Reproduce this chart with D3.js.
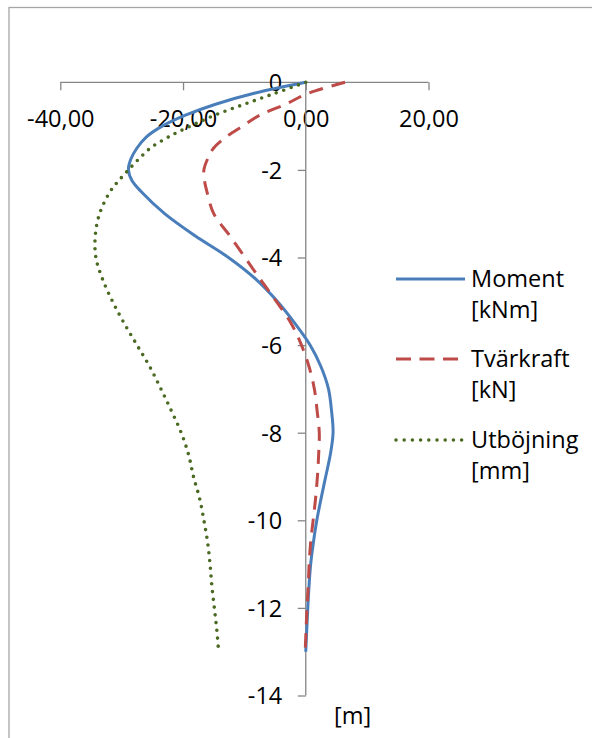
<!DOCTYPE html>
<html>
<head>
<meta charset="utf-8">
<script src="https://cdn.jsdelivr.net/npm/d3@7"></script>
<style>
  html, body { margin: 0; padding: 0; background: #fff; }
  svg { display: block; }
  text { font-family: "Open Sans", "Liberation Sans", sans-serif; fill: #000; }
</style>
</head>
<body>
<svg id="chart" width="592" height="738"></svg>
<script>
// Depth below ground level [m]
const depths = [0, -0.25, -0.5, -0.75, -1, -1.25, -1.5, -1.75, -2, -2.25, -2.5, -3, -3.5, -4, -4.5, -5, -5.5, -6, -6.5, -7, -7.5, -8, -8.5, -9, -9.5, -10, -10.5, -11, -11.5, -12, -12.5, -13];

// Bending moment [kNm]
const moment = [0, -8.4, -14.7, -19.6, -23.4, -26.0, -27.5, -28.5, -28.9, -28.3, -26.8, -23.0, -18.1, -12.6, -8.1, -4.65, -1.8, 0.7, 2.5, 3.7, 4.2, 4.45, 4.0, 3.25, 2.5, 1.8, 1.25, 0.8, 0.53, 0.33, 0.16, 0.0];

// Shear force [kN]
const shear = [6.4, 0.4, -3.3, -7.5, -10.3, -13.0, -15.0, -16.0, -16.6, -16.5, -16.1, -15.0, -12.4, -9.9, -7.4, -4.8, -2.4, -0.7, 0.55, 1.4, 1.85, 2.2, 2.1, 1.9, 1.6, 1.2, 0.8, 0.55, 0.4, 0.2, 0.05, -0.1];

// Deflection [mm]
const deflection = [0, -5.0, -10.0, -14.8, -18.8, -22.4, -25.3, -27.2, -28.9, -30.5, -31.9, -33.6, -34.3, -34.2, -33.1, -31.5, -29.6, -27.5, -25.4, -23.6, -21.9, -20.3, -19.1, -18.3, -17.3, -16.6, -16.0, -15.6, -15.3, -14.9, -14.5, -14.2];

const xTicks = [-40, -20, 0, 20];
const yTicks = [0, -2, -4, -6, -8, -10, -12, -14];

const seriesNames = ["Moment", "Tvärkraft", "Utböjning"];
const seriesUnits = ["[kNm]", "[kN]", "[mm]"];
const seriesValues = [moment, shear, deflection];
const seriesColors = ["#4A7EBB", "#BE4B48", "#4A6A22"];
const seriesDash = [null, "14 9", "0 7.8"];
const depthUnit = "[m]";

const svg = d3.select("#chart");

// chart frame
svg.append("rect")
  .attr("x", 9).attr("y", 7.5)
  .attr("width", 700).attr("height", 800)
  .attr("fill", "#fff")
  .attr("stroke", "#A6A6A6").attr("stroke-width", 1.3);

const x = d3.scaleLinear().domain([-40, 20]).range([60.3, 428.5]);
const y = d3.scaleLinear().domain([0, -14]).range([82.3, 695.5]);

const fontSize = 23.5;
const axisColor = "#868686";

// value axis along the top (ticks point down)
const xAxis = svg.append("g")
  .attr("transform", `translate(0,${y(0)})`)
  .call(d3.axisBottom(x).tickValues(xTicks).tickSize(8).tickPadding(20)
    .tickFormat(d => d3.format(".2f")(d).replace(".", ",").replace("−", "-")));

// depth axis through zero
const yAxis = svg.append("g")
  .attr("transform", `translate(${x(0)},0)`)
  .call(d3.axisLeft(y).tickValues(yTicks).tickSize(8).tickPadding(15.5)
    .tickFormat(d => String(d)));

[xAxis, yAxis].forEach(g => {
  g.select(".domain").attr("stroke", axisColor).attr("stroke-width", 1.3);
  g.selectAll(".tick line").attr("stroke", axisColor).attr("stroke-width", 1.3);
  g.selectAll(".tick text")
    .attr("fill", "#000")
    .style("font-family", '"Open Sans", "Liberation Sans", sans-serif')
    .style("font-size", fontSize + "px");
});
xAxis.select(".domain").attr("d", `M${x(-40)},0H${x(20)}`);
yAxis.select(".domain").attr("d", `M0,${y(0)}V${y(-14)}`);
yAxis.selectAll(".tick text").attr("dy", "0.36em");

// curves
const line = d3.line()
  .x(d => x(d[0]))
  .y(d => y(d[1]))
  .curve(d3.curveCatmullRom.alpha(0.5));

seriesValues.forEach((vals, i) => {
  const pts = vals.map((v, j) => [v, depths[j]]);
  const p = svg.append("path")
    .datum(pts)
    .attr("d", line)
    .attr("fill", "none")
    .attr("stroke", seriesColors[i])
    .attr("stroke-width", i === 2 ? 3.6 : 3)
    .attr("stroke-linejoin", "round");
  if (seriesDash[i]) p.attr("stroke-dasharray", seriesDash[i]);
  if (i === 2) p.attr("stroke-linecap", "round");
});

// depth unit label
svg.append("text")
  .attr("x", 334).attr("y", 724)
  .style("font-size", fontSize + "px")
  .text(depthUnit);

// legend
const legend = svg.append("g");
const legendY = [279, 359, 440];
seriesNames.forEach((name, i) => {
  const ly = legendY[i];
  const l = legend.append("line")
    .attr("x1", 396).attr("x2", 465)
    .attr("y1", ly).attr("y2", ly)
    .attr("stroke", seriesColors[i])
    .attr("stroke-width", i === 2 ? 3.6 : 3);
  if (seriesDash[i]) l.attr("stroke-dasharray", i === 2 ? "0 8.2" : "15 8.5");
  if (i === 2) l.attr("stroke-linecap", "round");
  legend.append("text")
    .attr("x", 471).attr("y", ly + 8)
    .style("font-size", fontSize + "px")
    .text(name);
  legend.append("text")
    .attr("x", 471).attr("y", ly + 39)
    .style("font-size", fontSize + "px")
    .text(seriesUnits[i]);
});
</script>
</body>
</html>
